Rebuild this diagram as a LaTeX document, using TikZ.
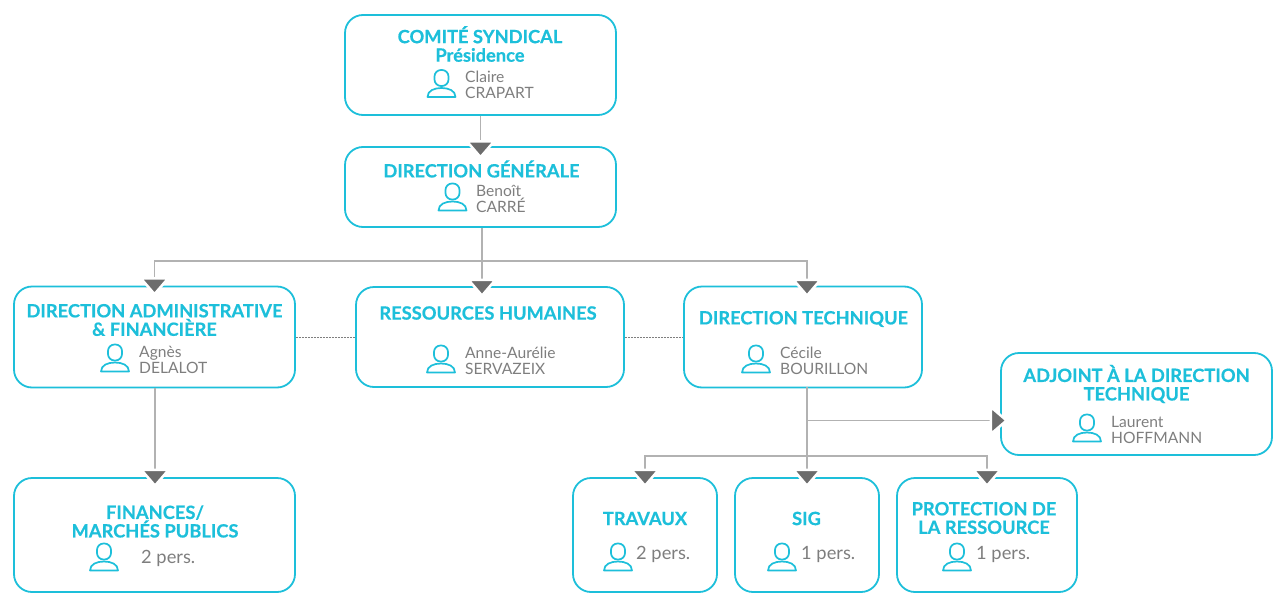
\documentclass[tikz,border=0pt]{standalone}
\usepackage{fontspec}
\setmainfont{Lato}[BoldFeatures={FakeBold=0.5}]
\usetikzlibrary{arrows.meta}
\definecolor{boxcyan}{HTML}{1DBFDA}
\definecolor{namegray}{HTML}{7E7E7E}
\definecolor{linkgray}{HTML}{B2B2B2}
\definecolor{tipgray}{HTML}{6C6C6C}
\tikzset{
	box/.style={draw=boxcyan,line width=1.8pt,rounded corners=18pt,inner sep=0pt},
	titletext/.style={text=boxcyan,align=center,inner sep=0pt,font=\fontsize{18.3}{18.5}\selectfont\bfseries},
	nametext/.style={text=namegray,align=left,anchor=west,inner sep=0pt,font=\fontsize{15.6}{16}\selectfont},
	counttext/.style={text=namegray,anchor=west,inner sep=0pt,font=\fontsize{18.3}{18.5}\selectfont},
	link/.style={draw=linkgray,line width=1.6pt},
	arrowlink/.style={link,shorten >=-10.5pt,-{Triangle[length=19pt,width=32pt,color=white,fill=tipgray,line width=2.5pt]}},
	dots/.style={draw=namegray,line width=.5pt,densely dotted},
	person/.pic={
		\draw[boxcyan,line width=1.7pt,rounded corners=6.5pt] (-7,-13.5) rectangle (7,2.5);
		\draw[boxcyan,line width=1.7pt,line join=round] (-14,13.5) .. controls (-14,7) and (-7,4.5) .. (0,4.5) .. controls (7,4.5) and (14,7) .. (14,13.5) -- cycle;
	}
}
\begin{document}
\begin{tikzpicture}[x=1pt,y=-1pt]
	\useasboundingbox (0,0) rectangle (1286,616);
	% Boxes
	\node[box,minimum width=271pt,minimum height=100pt] (comite) at (480.5,65) {};
	\node[box,minimum width=271pt,minimum height=80pt] (dirgen) at (480.5,187) {};
	\node[box,minimum width=281pt,minimum height=101pt] (diradm) at (154.5,337) {};
	\node[box,minimum width=268pt,minimum height=100pt] (rh) at (490,337) {};
	\node[box,minimum width=238pt,minimum height=101pt] (dirtech) at (803,337) {};
	\node[box,minimum width=271pt,minimum height=102pt] (adjoint) at (1136.5,404) {};
	\node[box,minimum width=281pt,minimum height=114pt] (finances) at (154.5,535) {};
	\node[box,minimum width=144pt,minimum height=114pt] (travaux) at (645,535) {};
	\node[box,minimum width=144pt,minimum height=114pt] (sig) at (807,535) {};
	\node[box,minimum width=180pt,minimum height=114pt] (protect) at (987,535) {};
	% Titles
	\node[titletext] (tcomite) at (480,44) {COMITÉ SYNDICAL\\Présidence};
	\node[titletext] (tdirgen) at (481.5,169) {DIRECTION GÉNÉRALE};
	\node[titletext] (tdiradm) at (154.5,320) {DIRECTION ADMINISTRATIVE\\\& FINANCIÈRE};
	\node[titletext] (trh) at (488,313) {RESSOURCES HUMAINES};
	\node[titletext] (tdirtech) at (803.5,319) {DIRECTION TECHNIQUE};
	\node[titletext] (tadjoint) at (1136.5,384) {ADJOINT À LA DIRECTION\\TECHNIQUE};
	\node[titletext] (tfinances) at (155,521.5) {FINANCES/\\MARCHÉS PUBLICS};
	\node[titletext] (ttravaux) at (645,518.5) {TRAVAUX};
	\node[titletext] (tsig) at (806.5,518.5) {SIG};
	\node[titletext] (tprotect) at (984,518) {PROTECTION DE\\LA RESSOURCE};
	% People
	\pic at (441.5,83.5) {person};
	\pic at (452.5,197) {person};
	\pic at (115,358) {person};
	\pic at (441,359) {person};
	\pic at (756,359) {person};
	\pic at (1087,428) {person};
	\pic at (104,557) {person};
	\pic at (618,557) {person};
	\pic at (782,557) {person};
	\pic at (957,557) {person};
	\node[nametext] (ncomite) at (465,85) {Claire\\CRAPART};
	\node[nametext] (ndirgen) at (476,198.5) {Benoît\\CARRÉ};
	\node[nametext] (ndiradm) at (139,359.5) {Agnès\\DELALOT};
	\node[nametext] (nrh) at (465,360.5) {Anne-Aurélie\\SERVAZEIX};
	\node[nametext] (ndirtech) at (780,360.5) {Cécile\\BOURILLON};
	\node[nametext] (nadjoint) at (1111,429.5) {Laurent\\HOFFMANN};
	\node[counttext] (nfinances) at (141,558) {2 pers.};
	\node[counttext] (ntravaux) at (636,554) {2 pers.};
	\node[counttext] (nsig) at (801,554) {1 pers.};
	\node[counttext] (nprotect) at (976,554) {1 pers.};
	% Connectors
	\coordinate (rhin) at (482,287);
	\coordinate (dirtechin) at (807,287);
	\coordinate (dirtechout) at (807,387);
	\coordinate (adjointin) at (1001,420.5);
	\draw[arrowlink,shorten >=-13pt] (comite.south) -- (dirgen.north);
	\draw[link] (dirgen.south) ++(1.5,0) coordinate (dirgenout) -- ++(0,33) coordinate (busa);
	\draw[arrowlink] (busa) -| (diradm.north);
	\draw[arrowlink] (busa) -- (rhin);
	\draw[arrowlink] (busa) -| (dirtechin);
	\draw[dots] (diradm.east) -- (rh.west);
	\draw[dots] (rh.east) -- (dirtech.west);
	\draw[arrowlink] ([xshift=.5pt]diradm.south) -- ([xshift=.5pt]finances.north);
	\draw[arrowlink] (dirtechout) -- (sig.north);
	\draw[arrowlink,shorten >=-7.5pt] (dirtechout |- adjointin) -- (adjointin);
	\coordinate (busb) at (807,456);
	\draw[arrowlink] (busb) -| (travaux.north);
	\draw[arrowlink] (busb) -| (protect.north);
\end{tikzpicture}
\end{document}
